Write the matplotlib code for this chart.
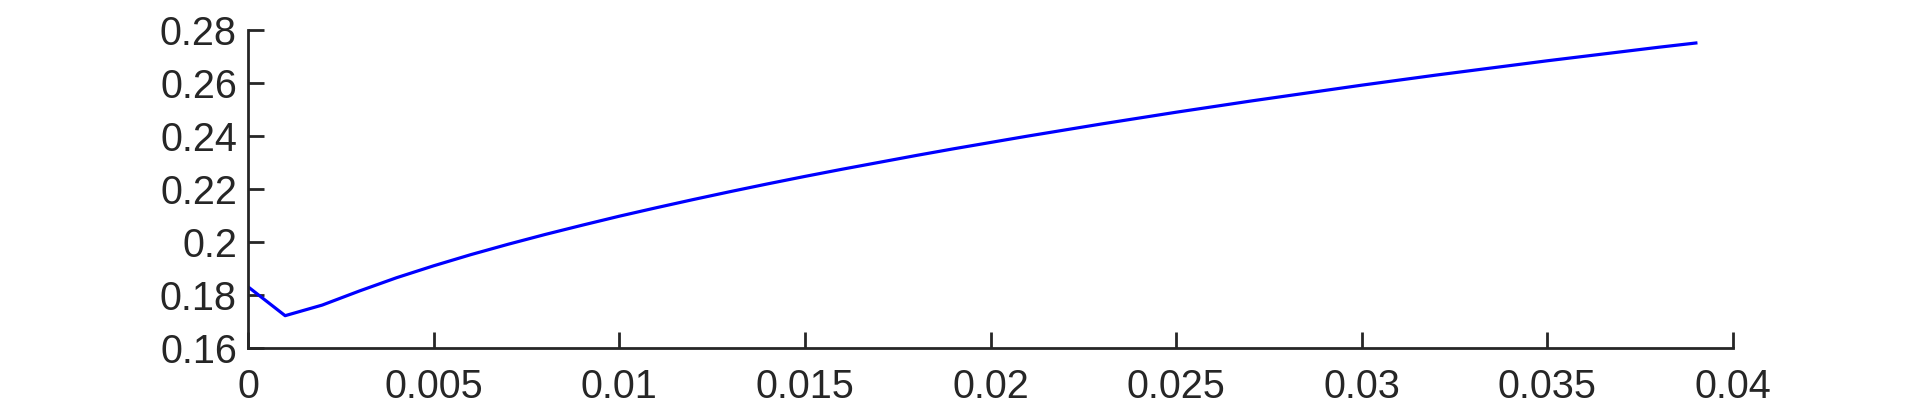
import matplotlib
matplotlib.use("Agg")
import matplotlib.pyplot as plt

x_vals = [0.000, 0.001, 0.002, 0.003, 0.004, 0.005, 0.006, 0.007, 0.008, 0.009,
          0.010, 0.011, 0.012, 0.013, 0.014, 0.015, 0.016, 0.017, 0.018, 0.019,
          0.020, 0.021, 0.022, 0.023, 0.024, 0.025, 0.026, 0.027, 0.028, 0.029,
          0.030, 0.031, 0.032, 0.033, 0.034, 0.035, 0.036, 0.037, 0.038, 0.039]
y_vals = [0.1832, 0.1723, 0.1763, 0.1816, 0.1866, 0.1911, 0.1953, 0.1992, 0.2029, 0.2064,
          0.2098, 0.2130, 0.2161, 0.2191, 0.2220, 0.2248, 0.2275, 0.2301, 0.2327, 0.2352,
          0.2376, 0.2400, 0.2423, 0.2446, 0.2468, 0.2490, 0.2511, 0.2532, 0.2552, 0.2572,
          0.2592, 0.2611, 0.2630, 0.2648, 0.2666, 0.2684, 0.2701, 0.2718, 0.2735, 0.2751]

x_ticks = [0, 0.005, 0.01, 0.015, 0.02, 0.025, 0.03, 0.035, 0.04]
x_ticklabels = ["0", "0.005", "0.01", "0.015", "0.02", "0.025", "0.03", "0.035", "0.04"]
y_ticks = [0.16, 0.18, 0.2, 0.22, 0.24, 0.26, 0.28]
y_ticklabels = ["0.16", "0.18", "0.2", "0.22", "0.24", "0.26", "0.28"]

plt.rcParams['font.family'] = ['Liberation Sans', 'DejaVu Sans']
text_color = '#262626'

fig = plt.figure(figsize=(19.17, 4.11), dpi=100)
ax = fig.add_axes([248/1917, 1 - 348.3/411, (1733 - 248)/1917, (348.3 - 30)/411])

ax.plot(x_vals, y_vals, color=(0, 0, 1), linewidth=2.3)

ax.set_xlim(0, 0.04)
ax.set_ylim(0.16, 0.28)
ax.set_xticks(x_ticks)
ax.set_xticklabels(x_ticklabels)
ax.set_yticks(y_ticks)
ax.set_yticklabels(y_ticklabels)

for s in ['top', 'right']:
    ax.spines[s].set_visible(False)
for s in ['left', 'bottom']:
    ax.spines[s].set_linewidth(2.0)
    ax.spines[s].set_color(text_color)

ax.tick_params(axis='both', direction='in', length=11.5, width=2.0,
               colors=text_color, labelsize=28.5)
ax.tick_params(axis='x', pad=14)
ax.tick_params(axis='y', pad=8)

fig.savefig("out.png", dpi=100)
